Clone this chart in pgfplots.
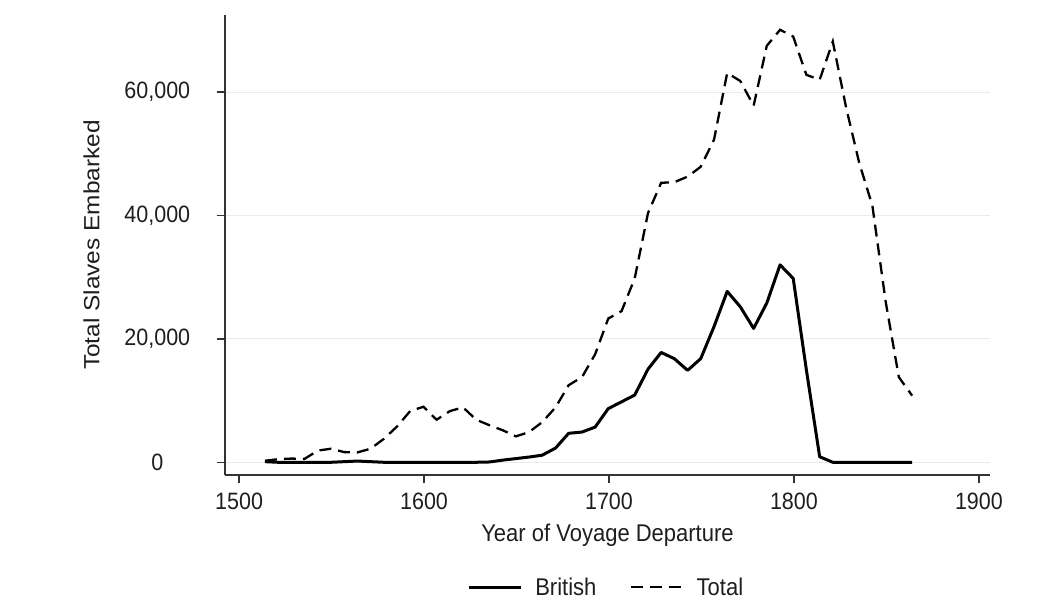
\documentclass[border=0pt]{standalone}
\usepackage{graphicx}
\usepackage{pgfplots}
\pgfplotsset{compat=1.18}
\usepackage{pgfplotstable}
\usepackage{fontspec}
\setmainfont{Liberation Sans}
\definecolor{txt}{HTML}{1E1E1E}
\definecolor{axc}{HTML}{333333}
\definecolor{gridc}{HTML}{EBEBEB}
\newcommand{\vs}[1]{\scalebox{1}[1.1]{#1}}

\pgfplotstableread{
year british total
1514.0 0.10 0.25
1521.1 0.00 0.50
1528.3 0.00 0.60
1535.4 0.00 0.55
1542.6 0.00 1.90
1549.7 0.00 2.20
1556.8 0.10 1.65
1564.0 0.20 1.60
1571.1 0.10 2.20
1578.3 0.00 3.80
1585.4 0.00 5.80
1592.5 0.00 8.30
1599.7 0.00 9.00
1606.8 0.00 6.90
1614.0 0.00 8.30
1621.1 0.00 8.90
1628.2 0.00 6.90
1635.4 0.05 6.00
1642.5 0.35 5.20
1649.7 0.60 4.20
1656.8 0.85 4.90
1663.9 1.15 6.50
1671.1 2.30 8.90
1678.2 4.70 12.50
1685.4 4.90 13.80
1692.5 5.70 17.50
1699.6 8.70 23.30
1706.8 9.80 24.50
1713.9 10.90 29.80
1721.1 15.10 40.40
1728.2 17.80 45.30
1735.3 16.80 45.40
1742.5 14.90 46.30
1749.6 16.80 47.90
1756.8 22.00 52.30
1763.9 27.70 63.10
1771.0 25.20 61.80
1778.2 21.70 57.80
1785.3 25.80 67.50
1792.5 32.00 70.10
1799.6 29.80 69.00
1806.7 15.00 62.80
1813.9 0.90 62.00
1821.0 0.00 68.20
1828.2 0.00 57.50
1835.3 0.00 48.50
1842.4 0.00 41.60
1849.6 0.00 26.00
1856.7 0.00 13.80
1863.9 0.00 10.80
}\datatable

\begin{document}
\begin{tikzpicture}[x=1bp,y=1bp]
\path[use as bounding box] (0,0) rectangle (1058,606);
\begin{axis}[
  at={(225bp,131bp)}, anchor=south west,
  width=765bp, height=460bp, scale only axis,
  xmin=1492.4, xmax=1906, ymin=-2.06, ymax=72.5,
  axis x line*=bottom, axis y line*=left,
  axis line style={axc, line width=1.3bp},
  xtick={1500,1600,1700,1800,1900},
  ytick={0,20,40,60},
  yticklabels={\vs{0},\vs{20,000},\vs{40,000},\vs{60,000}},
  xticklabels={\vs{1500},\vs{1600},\vs{1700},\vs{1800},\vs{1900}},
  ymajorgrids, grid style={gridc, line width=0.9bp},
  tick align=outside, major tick length=8.5bp,
  tick style={axc, line width=1.3bp},
  every tick label/.append style={font=\fontsize{21.5bp}{25bp}\selectfont, text=txt},
  yticklabel style={text width=118bp, align=center, inner sep=0pt, anchor=east},
  xticklabel style={yshift=-6bp},
  label style={font=\fontsize{22bp}{26bp}\selectfont, text=txt},
  xlabel={\vs{Year of Voyage Departure}},
  ylabel={\scalebox{1.11}[1]{Total Slaves Embarked}},
  xlabel style={at={(axis description cs:0.5,-0.13)}, anchor=center},
  ylabel style={at={(axis description cs:-0.1745,0.5)}, anchor=center},
  legend columns=2,
  legend style={at={(axis description cs:0.497,-0.2435)}, anchor=center,
    draw=none, fill=none, font=\fontsize{22bp}{26bp}\selectfont, text=txt,
    nodes={inner sep=0pt},
    /tikz/every odd column/.append style={column sep=13bp},
    /tikz/every even column/.append style={column sep=33bp}},
  legend image code/.code={\draw[#1] (0bp,0bp) -- (52bp,0bp);},
]
\addplot[black, line width=3bp, line join=round] table[x=year, y=british] {\datatable};
\addlegendentry{\vs{British}}
\addplot[black, line width=2.3bp, dash pattern=on 12bp off 7bp] table[x=year, y=total] {\datatable};
\addlegendentry{\vs{Total}}
\end{axis}
\end{tikzpicture}
\end{document}
